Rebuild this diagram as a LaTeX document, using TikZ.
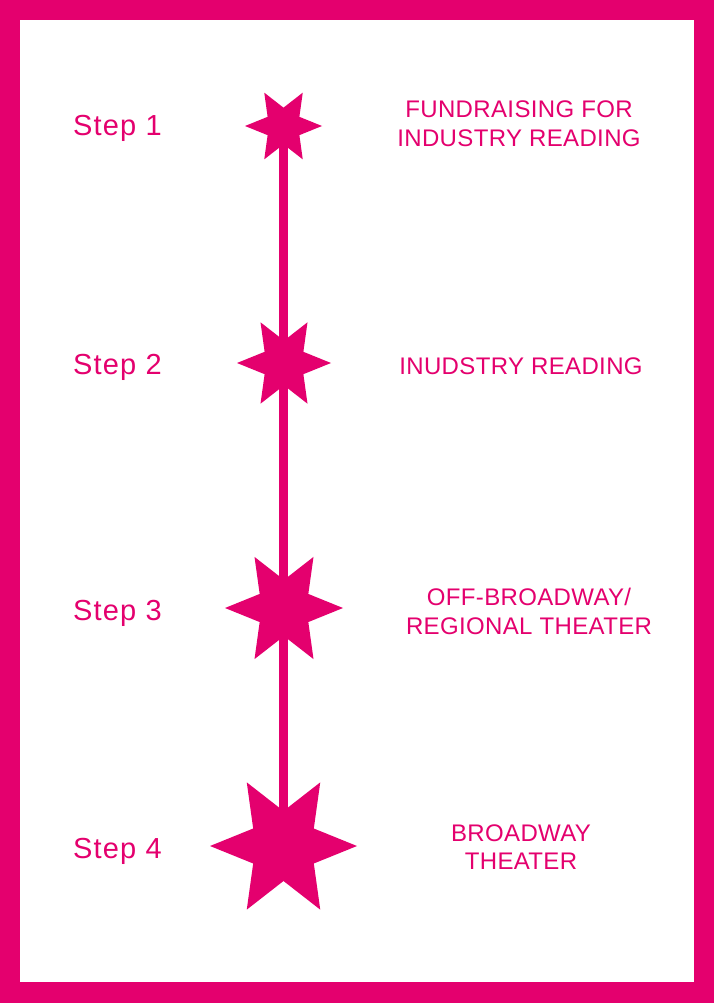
\documentclass[tikz,border=0pt]{standalone}
\usepackage{fontspec}
\setmainfont{Liberation Sans}
\usetikzlibrary{shapes.geometric}
\definecolor{mag}{HTML}{E4006E}
\begin{document}
\begin{tikzpicture}[x=1pt,y=-1pt,
  starnode/.style={shape=star, star points=6, star point ratio=2.1, rotate=30,
    fill=mag, draw=none, inner sep=0pt, minimum size=#1},
  steplabel/.style={anchor=base west, text=mag, inner sep=0pt,
    font=\fontsize{29}{32}\selectfont\addfontfeatures{LetterSpace=4}},
  desc/.style={text=mag, align=center, inner sep=0pt,
    font=\fontsize{24}{#1}\selectfont\addfontfeatures{LetterSpace=1.5}}]
\useasboundingbox (0,0) rectangle (714,1003);
\fill[mag] (0,0) rectangle (714,1003);
\fill[white] (20,20) rectangle (694,982);
% stars
\node[starnode=77pt]  (s1) at (283.5,126) {};
\node[starnode=94pt]  (s2) at (284,363) {};
\node[starnode=118pt] (s3) at (284,608) {};
\node[starnode=147pt] (s4) at (283.5,846) {};
\draw[mag, line width=8.5pt] (s1.center) -- (s4.center);
% step labels
\node[steplabel] (l1) at (73,136) {Step 1};
\node[steplabel] (l2) at (73,374) {Step 2};
\node[steplabel] (l3) at (73,620) {Step 3};
\node[steplabel] (l4) at (73,858) {Step 4};
% descriptions
\node[desc=29pt] (d1) at (519,123.5) {FUNDRAISING FOR\\INDUSTRY READING};
\node[desc=29pt] (d2) at (521,366) {INUDSTRY READING};
\node[desc=29pt] (d3) at (529,611.5) {OFF-BROADWAY/\\REGIONAL THEATER};
\node[desc=28pt] (d4) at (521,847) {BROADWAY\\THEATER};
\end{tikzpicture}
\end{document}
